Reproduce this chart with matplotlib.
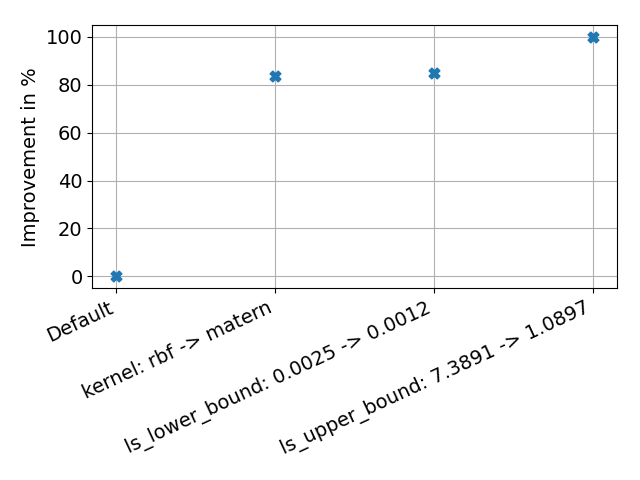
import matplotlib
matplotlib.use('Agg')
import matplotlib.pyplot as plt

# Configurations and their improvement
labels = ['Default', 'kernel: rbf -> matern', 'ls_lower_bound: 0.0025 -> 0.0012',
          'ls_upper_bound: 7.3891 -> 1.0897']
improvement = [0.0, 83.8, 85.1, 100.0]

plt.rcParams['font.size'] = 14

fig, ax = plt.subplots(figsize=(6.4, 4.8))
ax.scatter(labels, improvement, marker='X', s=60, zorder=3)
ax.set_ylabel('Improvement in %')
ax.grid()
plt.xticks(rotation=25, ha='right')
fig.subplots_adjust(left=0.1442, right=0.9636, top=0.9479, bottom=0.3994)
plt.savefig('out.png', dpi=100)
